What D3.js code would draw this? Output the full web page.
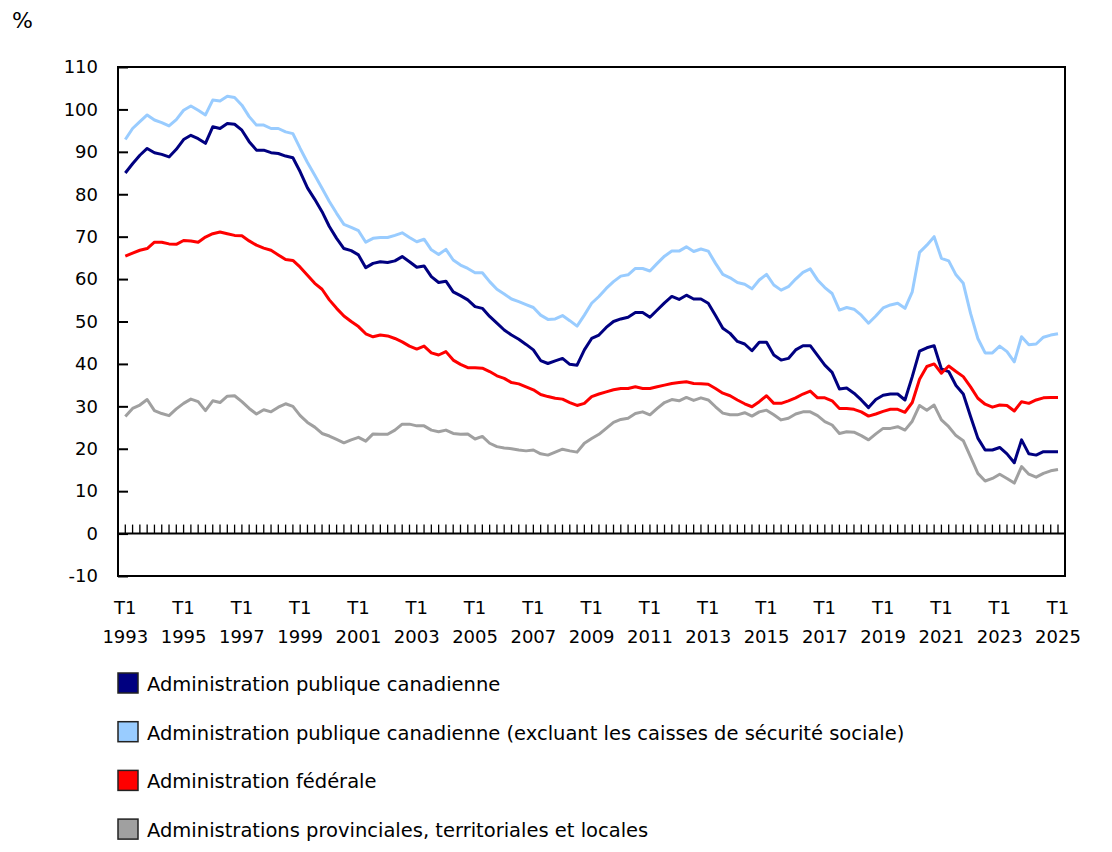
<!DOCTYPE html>
<html>
<head>
<meta charset="utf-8">
<script src="https://cdn.jsdelivr.net/npm/d3@7"></script>
<style>
  body { margin: 0; background: #fff; }
  svg text { font-family: Verdana, "DejaVu Sans", sans-serif; fill: #000; }
</style>
</head>
<body>
<svg id="chart" width="1112" height="852"></svg>
<script>
const svg = d3.select("#chart");

// quarterly data, T1 1993 .. T1 2025
const FIRST_YEAR = 1993;
const yearLabels = ["1993", "1995", "1997", "1999", "2001", "2003", "2005", "2007",
    "2009", "2011", "2013", "2015", "2017", "2019", "2021", "2023", "2025"];
const yTicks = [-10, 0, 10, 20, 30, 40, 50, 60, 70, 80, 90, 100, 110];

const seriesNames = [
    "Administration publique canadienne",
    "Administration publique canadienne (excluant les caisses de sécurité sociale)",
    "Administration fédérale",
    "Administrations provinciales, territoriales et locales"
];
const seriesColors = ["#000080", "#99ccff", "#ff0000", "#a0a0a0"];

const canadienne = [
    85.0, 87.2, 89.2, 90.8, 89.8, 89.4, 88.8, 90.6, 92.9, 93.9, 93.1, 92.0, 95.9, 95.5, 96.7, 96.5,
    95.1, 92.4, 90.4, 90.4, 89.8, 89.6, 89.0, 88.6, 85.3, 81.5, 78.8, 75.9, 72.4, 69.6, 67.2, 66.7,
    65.7, 62.7, 63.7, 64.1, 63.9, 64.3, 65.3, 64.1, 62.8, 63.1, 60.6, 59.2, 59.5, 57.0, 56.1, 55.1,
    53.5, 53.1, 51.2, 49.6, 48.0, 46.8, 45.8, 44.6, 43.3, 40.8, 40.1, 40.7, 41.3, 39.9, 39.7, 43.3,
    46.0, 46.8, 48.6, 50.0, 50.6, 51.0, 52.1, 52.1, 51.0, 52.7, 54.4, 55.9, 55.2, 56.2, 55.3, 55.3,
    54.3, 51.4, 48.4, 47.2, 45.3, 44.7, 43.1, 45.1, 45.1, 42.1, 40.9, 41.3, 43.3, 44.3, 44.3, 42.0,
    39.7, 38.0, 34.1, 34.3, 33.1, 31.5, 29.7, 31.6, 32.6, 32.9, 32.9, 31.5, 37.0, 43.0, 43.8, 44.3,
    38.8, 38.2, 34.9, 32.9, 27.6, 22.5, 19.7, 19.7, 20.3, 18.8, 16.7, 22.1, 18.8, 18.5, 19.3, 19.3,
    19.3
];
const excluantCaisses = [
    92.9, 95.5, 97.1, 98.7, 97.5, 96.9, 96.1, 97.6, 99.8, 100.8, 99.8, 98.7, 102.2, 102.0, 103.1, 102.8,
    101.0, 98.3, 96.3, 96.3, 95.5, 95.5, 94.7, 94.3, 90.8, 87.5, 84.5, 81.4, 78.3, 75.5, 72.9, 72.2,
    71.4, 68.7, 69.6, 69.8, 69.8, 70.3, 70.9, 69.8, 68.8, 69.4, 66.9, 65.8, 67.0, 64.5, 63.3, 62.5,
    61.5, 61.5, 59.4, 57.6, 56.5, 55.3, 54.7, 54.0, 53.3, 51.5, 50.5, 50.6, 51.4, 50.2, 48.9, 51.5,
    54.3, 55.9, 57.8, 59.4, 60.7, 61.0, 62.5, 62.5, 61.9, 63.7, 65.4, 66.6, 66.6, 67.6, 66.5, 67.1,
    66.6, 63.7, 61.1, 60.3, 59.2, 58.8, 57.7, 59.8, 61.1, 58.6, 57.4, 58.2, 60.0, 61.6, 62.4, 59.8,
    58.0, 56.6, 52.7, 53.3, 52.9, 51.5, 49.6, 51.3, 53.2, 53.9, 54.3, 53.1, 57.0, 66.3, 68.0, 70.0,
    64.9, 64.3, 61.0, 59.0, 51.9, 46.0, 42.6, 42.6, 44.2, 42.9, 40.5, 46.4, 44.5, 44.7, 46.3, 46.8,
    47.1
];
const federale = [
    65.4, 66.1, 66.8, 67.2, 68.7, 68.7, 68.3, 68.2, 69.1, 69.0, 68.7, 69.9, 70.7, 71.1, 70.7, 70.3,
    70.2, 69.0, 68.0, 67.3, 66.8, 65.7, 64.6, 64.4, 62.8, 60.9, 59.0, 57.6, 55.1, 53.1, 51.3, 50.0,
    48.8, 47.1, 46.4, 46.8, 46.6, 46.0, 45.2, 44.2, 43.5, 44.2, 42.6, 42.1, 42.9, 40.9, 39.9, 39.1,
    39.1, 39.0, 38.2, 37.2, 36.6, 35.6, 35.3, 34.6, 33.9, 32.8, 32.3, 31.9, 31.7, 30.9, 30.2, 30.7,
    32.3, 32.9, 33.4, 33.9, 34.2, 34.2, 34.6, 34.2, 34.2, 34.6, 35.0, 35.4, 35.6, 35.8, 35.4, 35.3,
    35.2, 34.2, 33.1, 32.5, 31.5, 30.6, 29.9, 31.1, 32.5, 30.7, 30.7, 31.3, 32.0, 32.9, 33.6, 32.0,
    32.0, 31.3, 29.5, 29.5, 29.3, 28.7, 27.7, 28.2, 28.8, 29.3, 29.3, 28.6, 30.9, 36.4, 39.4, 40.0,
    37.8, 39.5, 38.2, 37.0, 34.6, 31.9, 30.5, 29.8, 30.3, 30.2, 28.9, 31.1, 30.7, 31.5, 32.0, 32.1,
    32.1
];
const provinciales = [
    27.6, 29.5, 30.3, 31.6, 29.0, 28.3, 27.8, 29.4, 30.7, 31.7, 31.1, 29.0, 31.3, 30.9, 32.4, 32.5,
    31.1, 29.5, 28.2, 29.2, 28.7, 29.8, 30.6, 30.0, 27.8, 26.2, 25.1, 23.6, 23.0, 22.2, 21.4, 22.1,
    22.7, 21.8, 23.5, 23.4, 23.4, 24.4, 25.8, 25.8, 25.4, 25.4, 24.4, 24.0, 24.4, 23.6, 23.4, 23.5,
    22.3, 22.9, 21.3, 20.5, 20.2, 20.0, 19.7, 19.5, 19.7, 18.8, 18.5, 19.2, 19.9, 19.5, 19.2, 21.3,
    22.4, 23.4, 24.8, 26.2, 26.9, 27.2, 28.3, 28.7, 28.0, 29.5, 30.9, 31.6, 31.3, 32.1, 31.4, 32.0,
    31.5, 29.9, 28.4, 28.0, 28.0, 28.5, 27.7, 28.7, 29.1, 28.0, 26.8, 27.2, 28.2, 28.7, 28.7, 27.8,
    26.4, 25.6, 23.6, 24.0, 23.9, 23.1, 22.1, 23.5, 24.8, 24.8, 25.2, 24.4, 26.5, 30.2, 29.1, 30.3,
    26.8, 25.2, 23.1, 21.9, 18.1, 14.2, 12.4, 13.0, 14.0, 13.0, 11.9, 15.8, 14.0, 13.3, 14.2, 14.8,
    15.1
];
const allSeries = [canadienne, excluantCaisses, federale, provinciales];

// plot frame
const plotLeft = 118, plotRight = 1065, plotTop = 67, plotBottom = 576;
const nQ = canadienne.length;

const xscale = d3.scaleLinear().domain([0, nQ - 1]).range([plotLeft + 7.3, plotRight - 7]);
const yscale = d3.scaleLinear().domain([-10, 110]).range([plotBottom, plotTop]);

// "%" unit label
svg.append("text")
    .attr("x", 12)
    .attr("y", 28)
    .style("font-size", "22px")
    .text("%");

// y axis, ticks pointing into the plot
const yAxis = d3.axisLeft(yscale)
    .tickValues(yTicks)
    .tickSize(-10)
    .tickPadding(20)
    .tickFormat(d => String(d));
const gy = svg.append("g")
    .attr("transform", `translate(${plotLeft},0)`)
    .call(yAxis);
gy.select(".domain").remove();
gy.selectAll(".tick line").attr("stroke", "#000").attr("stroke-width", 2);
gy.selectAll(".tick text")
    .style("font-size", "18px")
    .style("font-family", 'Verdana, "DejaVu Sans", sans-serif')
    .attr("fill", "#000");

// zero line with a small tick for every quarter
const y0 = yscale(0);
svg.append("line")
    .attr("x1", plotLeft).attr("x2", plotRight)
    .attr("y1", y0).attr("y2", y0)
    .attr("stroke", "#000").attr("stroke-width", 2);
svg.append("g").selectAll("line").data(d3.range(nQ)).join("line")
    .attr("x1", d => xscale(d)).attr("x2", d => xscale(d))
    .attr("y1", y0).attr("y2", y0 - 9)
    .attr("stroke", "#000").attr("stroke-width", 1.3);

// x labels every second year
const xLab = svg.append("g");
yearLabels.forEach(yr => {
    const i = (+yr - FIRST_YEAR) * 4;
    xLab.append("text")
        .attr("x", xscale(i)).attr("y", 614)
        .attr("text-anchor", "middle")
        .style("font-size", "18px")
        .text("T1");
    xLab.append("text")
        .attr("x", xscale(i)).attr("y", 643)
        .attr("text-anchor", "middle")
        .style("font-size", "18px")
        .text(yr);
});

// series lines
const line = d3.line()
    .x((d, i) => xscale(i))
    .y(d => yscale(d));
svg.append("g").selectAll("path").data(allSeries).join("path")
    .attr("d", line)
    .attr("fill", "none")
    .attr("stroke", (d, i) => seriesColors[i])
    .attr("stroke-width", 3)
    .attr("stroke-linejoin", "round");

// frame
svg.append("rect")
    .attr("x", plotLeft).attr("y", plotTop)
    .attr("width", plotRight - plotLeft).attr("height", plotBottom - plotTop)
    .attr("fill", "none")
    .attr("stroke", "#000")
    .attr("stroke-width", 2);

// legend
const legend = svg.append("g").selectAll("g").data(seriesNames).join("g")
    .attr("transform", (d, i) => `translate(118, ${673 + i * 48.7})`);
legend.append("rect")
    .attr("width", 20).attr("height", 20)
    .attr("fill", (d, i) => seriesColors[i])
    .attr("stroke", "#222")
    .attr("stroke-width", 1.5);
legend.append("text")
    .attr("x", 29).attr("y", 18)
    .style("font-size", "19.5px")
    .text(d => d);
</script>
</body>
</html>
